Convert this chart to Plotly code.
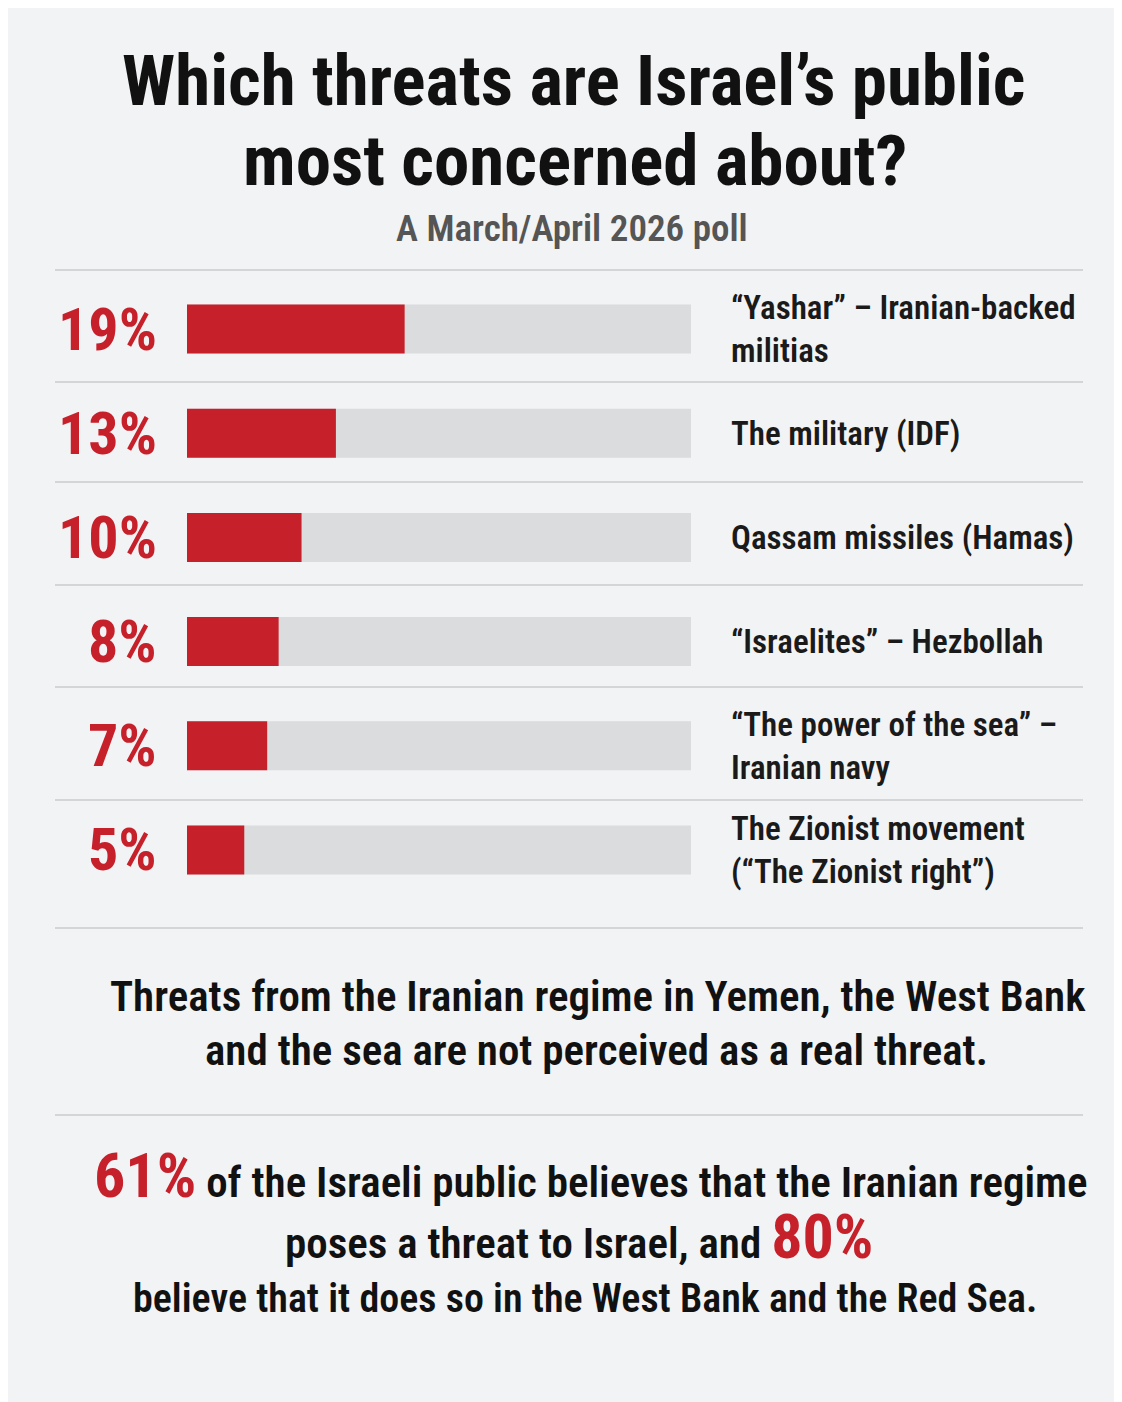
import plotly.graph_objects as go

# Datos
threats = [
    "\u201cYashar\u201d \u2013 Iranian-backed<br>militias",
    "The military (IDF)",
    "Qassam missiles (Hamas)",
    "\u201cIsraelites\u201d \u2013 Hezbollah",
    "\u201cThe power of the sea\u201d \u2013<br>Iranian navy",
    "The Zionist movement<br>(\u201cThe Zionist right\u201d)",
]
shares = [19, 13, 10, 8, 7, 5]
scale_max = 44

title_lines = ["Which threats are Israel\u2019s public", "most concerned about?"]
subtitle = "A March/April 2026 poll"
note_lines = ["Threats from the Iranian regime in Yemen, the West Bank",
              "and the sea are not perceived as a real threat."]
iran_share = 61
region_share = 80

RED = "#c6212b"
TRACK = "#dadcdd"
BG = "#f2f3f4"
FONT = "Liberation Sans Narrow, Roboto Condensed, Roboto, Arial Narrow, sans-serif"

W, H = 1122, 1402
top, bottom = 269, 894
left, right = 179, 683


def px_x(pix):
    # pixel from left -> paper x
    return (pix - left) / (right - left)


def px_y(pix):
    # pixel from top -> paper y
    return (bottom - pix) / (bottom - top)


def text_at(x, y, text, size, color="#111111", weight=600):
    fig.add_annotation(x=px_x(x), y=px_y(y), xref="paper", yref="paper",
                       xanchor="center", yanchor="middle", showarrow=False,
                       text=text, font=dict(family=FONT, size=size, color=color, weight=weight))


fig = go.Figure()
fig.add_trace(go.Bar(
    y=threats, x=[scale_max] * len(threats), orientation="h",
    marker=dict(color=TRACK, line_width=0), width=0.47, hoverinfo="skip",
))
fig.add_trace(go.Bar(
    y=threats, x=shares, orientation="h",
    marker=dict(color=RED, line_width=0), width=0.47,
    hovertemplate="%{x}%<extra></extra>",
))

# percent labels and threat names
for t, s in zip(threats, shares):
    fig.add_annotation(x=0, xref="paper", y=t, yref="y", xanchor="right", yanchor="middle",
                       xshift=-28, text=f"<b>{s}%</b>", showarrow=False,
                       font=dict(family=FONT, size=60, color=RED))
    fig.add_annotation(x=1, xref="paper", y=t, yref="y", xanchor="left", yanchor="middle",
                       xshift=38, text=t, showarrow=False, align="left",
                       font=dict(family=FONT, size=33, color="#1a1a1a", weight=600))

# divider lines
for yp in [262, 374, 474, 577, 679, 792, 920, 1107]:
    fig.add_shape(type="line", xref="paper", yref="paper",
                  x0=px_x(47), x1=px_x(1075), y0=px_y(yp), y1=px_y(yp),
                  line=dict(color="#d3d5d6", width=2))

# title, subtitle, notes
text_at(565, 72, f"<b>{title_lines[0]}</b>", 71)
text_at(567, 152, f"<b>{title_lines[1]}</b>", 71)
text_at(564, 220, subtitle, 37, color="#555555")
text_at(590, 988, note_lines[0], 43)
text_at(588, 1042, note_lines[1], 43)

big = f"font-size:62px;color:{RED}"
text_at(583, 1167, f"<b><span style='{big}'>{iran_share}%</span></b> of the Israeli public believes that the Iranian regime", 43)
text_at(571, 1228, f"poses a threat to Israel, and <b><span style='{big}'>{region_share}%</span></b>", 43)
text_at(577, 1290, "believe that it does so in the West Bank and the Red Sea.", 40)

fig.update_layout(
    width=W, height=H, barmode="overlay", showlegend=False,
    paper_bgcolor=BG, plot_bgcolor=BG,
    margin=dict(l=left, r=W - right, t=top, b=H - bottom),
    xaxis=dict(range=[0, scale_max], visible=False, fixedrange=True),
    yaxis=dict(autorange="reversed", visible=False, fixedrange=True),
)
fig.write_html("out.html")
